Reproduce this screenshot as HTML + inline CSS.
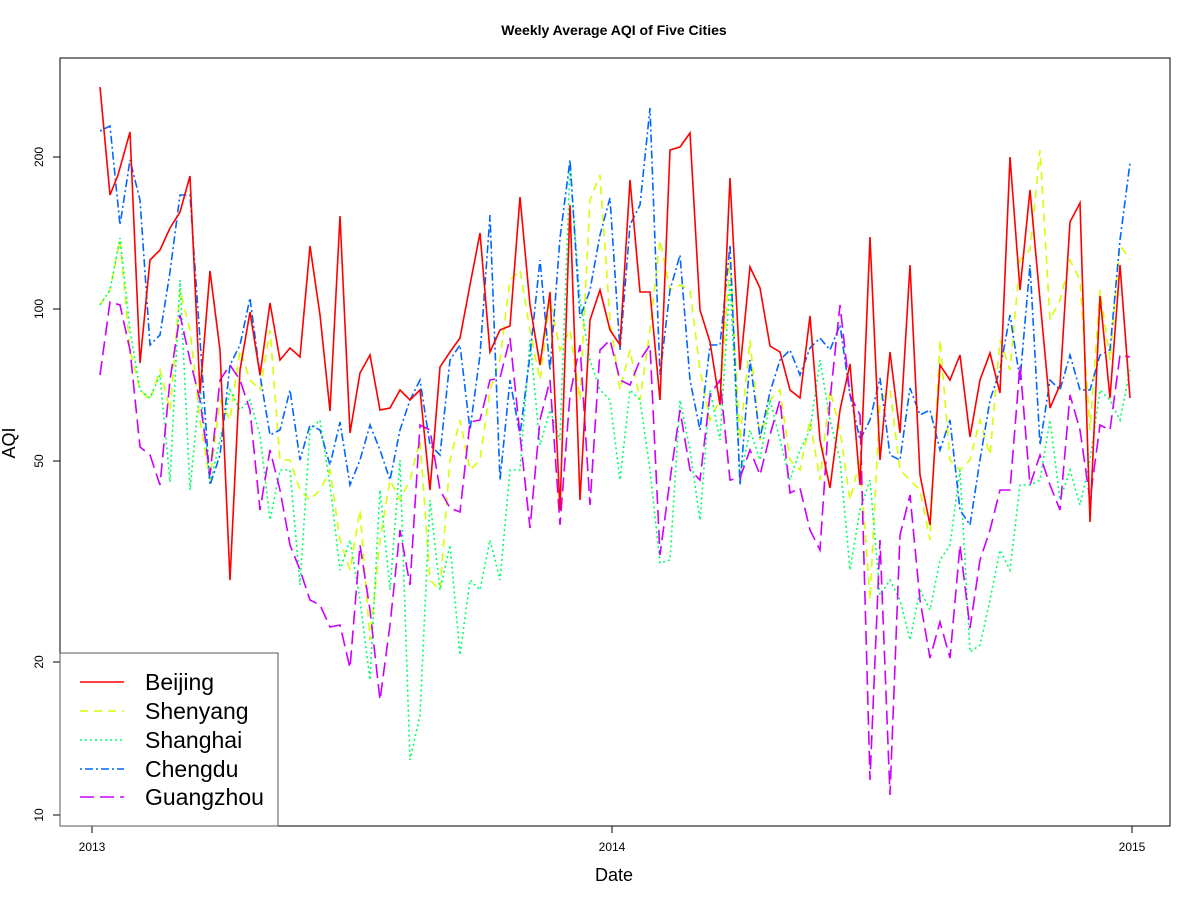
<!DOCTYPE html>
<html><head><meta charset="utf-8"><style>body{margin:0;background:#fff}svg{display:block;font-family:"Liberation Sans",sans-serif}</style></head><body>
<svg width="1200" height="900" viewBox="0 0 1200 900">
<rect width="1200" height="900" fill="#fff"/>
<text x="614" y="35" text-anchor="middle" font-size="14" font-weight="bold">Weekly Average AQI of Five Cities</text>
<rect x="60" y="58" width="1110" height="768" fill="none" stroke="#000" stroke-width="1"/>
<g stroke="#000" stroke-width="1">
<line x1="60" y1="157" x2="53" y2="157"/><line x1="60" y1="309" x2="53" y2="309"/><line x1="60" y1="461" x2="53" y2="461"/><line x1="60" y1="662" x2="53" y2="662"/><line x1="60" y1="815" x2="53" y2="815"/>
<line x1="92" y1="826" x2="92" y2="833"/><line x1="612" y1="826" x2="612" y2="833"/><line x1="1132" y1="826" x2="1132" y2="833"/>
</g>
<g font-size="12" text-anchor="middle">
<text transform="translate(43,157) rotate(-90)">200</text>
<text transform="translate(43,309) rotate(-90)">100</text>
<text transform="translate(43,461) rotate(-90)">50</text>
<text transform="translate(43,662) rotate(-90)">20</text>
<text transform="translate(43,815) rotate(-90)">10</text>
<text x="92" y="851">2013</text><text x="612" y="851">2014</text><text x="1132" y="851">2015</text>
</g>
<text x="614" y="881" text-anchor="middle" font-size="18">Date</text>
<text transform="translate(15,443) rotate(-90)" text-anchor="middle" font-size="18">AQI</text>
<g fill="none" stroke-width="1.6">
<polyline stroke="#d4ff00" stroke-dasharray="8,6" points="100,305 110,290 120,240 130,350 140,390 150,400 160,370 170,410 180,290 190,330 200,420 210,480 220,400 230,420 240,350 250,380 260,390 270,330 280,460 290,460 300,490 310,500 320,490 330,470 340,540 350,570 360,510 370,640 380,540 390,480 400,500 410,480 420,440 430,580 440,590 450,460 460,420 470,470 480,460 490,390 500,360 510,280 520,270 530,330 540,380 550,300 560,350 570,330 580,400 590,200 600,175 610,320 620,390 630,350 640,400 650,330 660,240 670,290 680,285 690,290 700,370 710,420 720,400 730,260 740,440 750,340 760,440 770,400 780,390 790,460 800,470 810,420 820,480 830,390 840,430 850,500 860,460 870,600 880,400 890,390 900,470 910,480 920,490 930,540 940,340 950,460 960,470 970,460 980,420 990,455 1000,340 1010,370 1020,260 1030,250 1040,150 1050,320 1060,300 1070,260 1080,280 1090,430 1100,290 1110,360 1120,245 1130,260"/>
<polyline stroke="#00ff66" stroke-dasharray="2,3" points="100,305 110,290 120,238 130,330 140,390 150,398 160,375 170,482 180,280 190,490 200,385 210,485 220,440 230,390 240,410 250,400 260,435 270,520 280,470 290,470 300,585 310,430 320,420 330,485 340,570 350,540 360,600 370,680 380,490 390,590 400,460 410,760 420,715 430,500 440,590 450,545 460,655 470,580 480,590 490,540 500,580 510,470 520,470 530,340 540,445 550,410 560,440 570,165 580,300 590,360 600,390 610,400 620,480 630,390 640,400 650,470 660,563 670,560 680,400 690,450 700,520 710,390 720,440 730,280 740,480 750,430 760,460 770,400 780,440 790,480 800,450 810,430 820,360 830,420 840,460 850,570 860,510 870,480 880,595 890,580 900,600 910,640 920,590 930,610 940,560 950,545 960,470 970,652 980,645 990,600 1000,550 1010,570 1020,485 1030,485 1040,480 1050,420 1060,500 1070,470 1080,505 1090,460 1100,390 1110,400 1120,420 1130,370"/>
<polyline stroke="#0066ff" stroke-dasharray="2,3,8,3" points="100,131 110,126 120,225 130,160 140,200 150,345 160,335 170,272 180,195 190,195 200,340 210,485 220,455 230,365 240,345 250,298 260,375 270,435 280,430 290,390 300,460 310,425 320,430 330,465 340,422 350,485 360,460 370,425 380,450 390,480 400,430 410,400 420,380 430,445 440,455 450,360 460,345 470,430 480,355 490,215 500,480 510,380 520,435 530,355 540,260 550,370 560,238 570,160 580,318 590,290 600,235 610,198 620,350 630,225 640,205 650,108 660,375 670,290 680,255 690,380 700,430 710,345 720,345 730,245 740,485 750,360 760,438 770,392 780,360 790,350 800,375 810,348 820,338 830,350 840,325 850,395 860,440 870,420 880,378 890,455 900,460 910,388 920,415 930,410 940,450 950,420 960,510 970,525 980,460 990,400 1000,370 1010,315 1020,380 1030,265 1040,445 1050,380 1060,390 1070,355 1080,390 1090,390 1100,355 1110,350 1120,240 1130,163"/>
<polyline stroke="#cc00ff" stroke-dasharray="14,6" points="100,375 110,302 120,305 130,350 140,447 150,455 160,485 170,380 180,315 190,360 200,400 210,475 220,380 230,365 240,380 250,410 260,510 270,450 280,490 290,545 300,570 310,600 320,605 330,627 340,625 350,668 360,545 370,610 380,700 390,625 400,530 410,585 420,425 430,430 440,490 450,508 460,512 470,422 480,420 490,380 500,378 510,338 520,435 530,528 540,420 550,380 560,525 570,395 580,345 590,505 600,350 610,340 620,380 630,385 640,360 650,345 660,555 670,480 680,410 690,470 700,480 710,395 720,380 730,480 740,478 750,450 760,475 770,435 780,400 790,493 800,488 810,530 820,550 830,400 840,305 850,395 860,415 870,780 880,540 890,795 900,535 910,495 920,600 930,658 940,622 950,658 960,545 970,628 980,560 990,530 1000,490 1010,490 1020,365 1030,485 1040,455 1050,485 1060,510 1070,395 1080,430 1090,500 1100,425 1110,430 1120,355 1130,357"/>
<polyline stroke="#ff0000" points="100,87 110,195 118,175 130,132 140,363 150,260 160,250 170,228 180,212 190,176 200,393 210,271 220,350 230,580 240,370 250,312 260,375 270,303 280,360 290,348 300,357 310,246 320,315 330,411 340,216 350,433 360,373 370,355 380,410 390,408 400,390 410,400 420,390 430,490 440,367 450,352 460,338 470,285 480,233 490,352 500,330 510,326 520,197 530,305 540,365 550,292 560,510 570,205 580,500 590,320 600,290 610,330 620,345 630,180 640,292 650,292 660,400 670,150 680,147 690,133 700,310 710,342 720,405 730,178 740,370 750,267 760,288 770,346 780,352 790,390 800,398 810,316 820,440 830,488 840,410 850,364 860,485 870,237 880,460 890,352 900,433 910,265 920,475 930,525 940,365 950,380 960,355 970,437 980,380 990,353 1000,393 1010,157 1020,290 1030,190 1040,300 1050,408 1060,385 1070,222 1080,203 1090,522 1100,296 1110,398 1120,265 1130,398"/>
</g>
<rect x="60" y="653" width="218" height="173" fill="#fff" stroke="#555" stroke-width="1"/>
<g stroke-width="1.6">
<line x1="80" y1="682" x2="124" y2="682" stroke="#ff0000"/>
<line x1="80" y1="711" x2="124" y2="711" stroke="#d4ff00" stroke-dasharray="8,6"/>
<line x1="80" y1="740" x2="124" y2="740" stroke="#00ff66" stroke-dasharray="2,3"/>
<line x1="80" y1="769" x2="124" y2="769" stroke="#0066ff" stroke-dasharray="2,3,8,3"/>
<line x1="80" y1="797" x2="124" y2="797" stroke="#cc00ff" stroke-dasharray="14,6"/>
</g>
<g font-size="23">
<text x="145" y="690">Beijing</text>
<text x="145" y="719">Shenyang</text>
<text x="145" y="748">Shanghai</text>
<text x="145" y="777">Chengdu</text>
<text x="145" y="805">Guangzhou</text>
</g>
</svg>
</body></html>
